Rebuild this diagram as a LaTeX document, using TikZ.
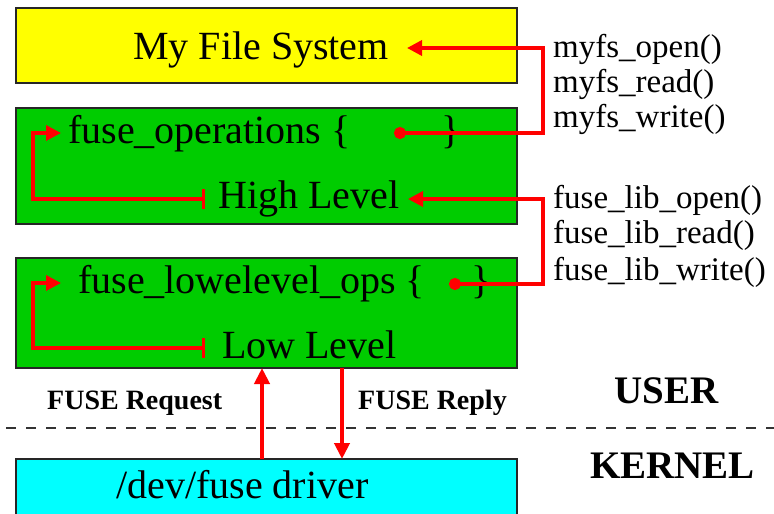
\documentclass[tikz,border=0pt]{standalone}
\usepackage{fontspec}
\setmainfont{Liberation Serif}
\usetikzlibrary{arrows.meta}

\definecolor{fsyellow}{HTML}{FFFF00}
\definecolor{libgreen}{HTML}{00CC00}
\definecolor{kerncyan}{HTML}{00FFFF}
\definecolor{callred}{HTML}{FF0000}

\tikzset{
  layer/.style={draw=black!85,line width=1.5pt,inner sep=0pt,outer sep=0pt,
    minimum width=501pt,anchor=north west},
  big/.style={anchor=base west,inner sep=0pt,font=\fontsize{40}{45}\selectfont},
  side/.style={anchor=base west,inner sep=0pt,font=\fontsize{33}{38}\selectfont},
  tag/.style={anchor=base west,inner sep=0pt,font=\bfseries\fontsize{28}{32}\selectfont},
  space/.style={anchor=base west,inner sep=0pt,font=\bfseries\fontsize{39}{44}\selectfont},
  call/.style={callred,line width=3.5pt,
    arrows={Circle[length=12pt]-Triangle[length=15pt,width=15pt]}},
  loop/.style={callred,line width=3.5pt,
    arrows={Bar[width=20pt,line width=3.5pt]-Triangle[length=15pt,width=15pt]}},
  pass/.style={callred,line width=4pt,arrows={-Triangle[length=16pt,width=15pt]}}
}

\begin{document}
\begin{tikzpicture}[x=1pt,y=-1pt]
\useasboundingbox (0,0) rectangle (774,514);

\begin{scope} % layer boxes
  \node[layer,fill=fsyellow,minimum height=75pt] (fsbox) at (16,8) {};
  \node[layer,fill=libgreen,minimum height=116pt] (highbox) at (16,108) {};
  \node[layer,fill=libgreen,minimum height=110pt] (lowbox) at (16,258) {};
  \node[layer,fill=kerncyan,minimum height=56pt] (driverbox) at (16,459) {};
\end{scope}

\begin{scope} % box texts
  \node[big] (myfs) at (133,59) {My File System};
  \node[big] (opsopen) at (68,143) {fuse\_operations \{};
  \node[big] (opsclose) at (441,143) {\}};
  \node[big] (high) at (218,208) {High Level};
  \node[big] (llopen) at (78,293) {fuse\_lowelevel\_ops \{};
  \node[big] (llclose) at (471,293) {\}};
  \node[big] (low) at (222,358) {Low Level};
  \node[big] (driver) at (116,498) {/dev/fuse driver};
\end{scope}

\begin{scope} % function names
  \foreach \op/\y in {open/57,read/92,write/127}
    \node[side] (myfs\op) at (553,\y) {myfs\_\op()};
  \foreach \op/\y in {open/208,read/243,write/280}
    \node[side] (lib\op) at (553,\y) {fuse\_lib\_\op()};
\end{scope}

\begin{scope} % user / kernel split
  \draw[black!80,line width=2pt,dash pattern=on 10pt off 10pt] (6,428) -- (774,428);
  \node[space] (user) at (614,403) {USER};
  \node[space] (kernel) at (590,478) {KERNEL};
  \node[tag] (request) at (47,409) {FUSE Request};
  \node[tag] (reply) at (358,409) {FUSE Reply};
\end{scope}

\begin{scope} % red call paths
  \coordinate (opsdot) at (394,133);
  \coordinate (lldot) at (449,284);
  \coordinate (myfsin) at (407,48);
  \coordinate (highin) at (408,199);
  \coordinate (highout) at (205,199);
  \coordinate (lowout) at (205,348);
  \coordinate (opsin) at (61,133);
  \coordinate (llin) at (61,283);
  \draw[call] (opsdot) -- (543,133) |- (myfsin);
  \draw[call] (lldot) -- (543,284) |- (highin);
  \draw[loop] (highout) -- (33,199) |- (opsin);
  \draw[loop] (lowout) -- (33,348) |- (llin);
  \draw[pass] (262,0 |- driverbox.north) -- (262,0 |- lowbox.south);
  \draw[pass] (342,0 |- lowbox.south) -- (342,0 |- driverbox.north);
\end{scope}

\end{tikzpicture}
\end{document}
